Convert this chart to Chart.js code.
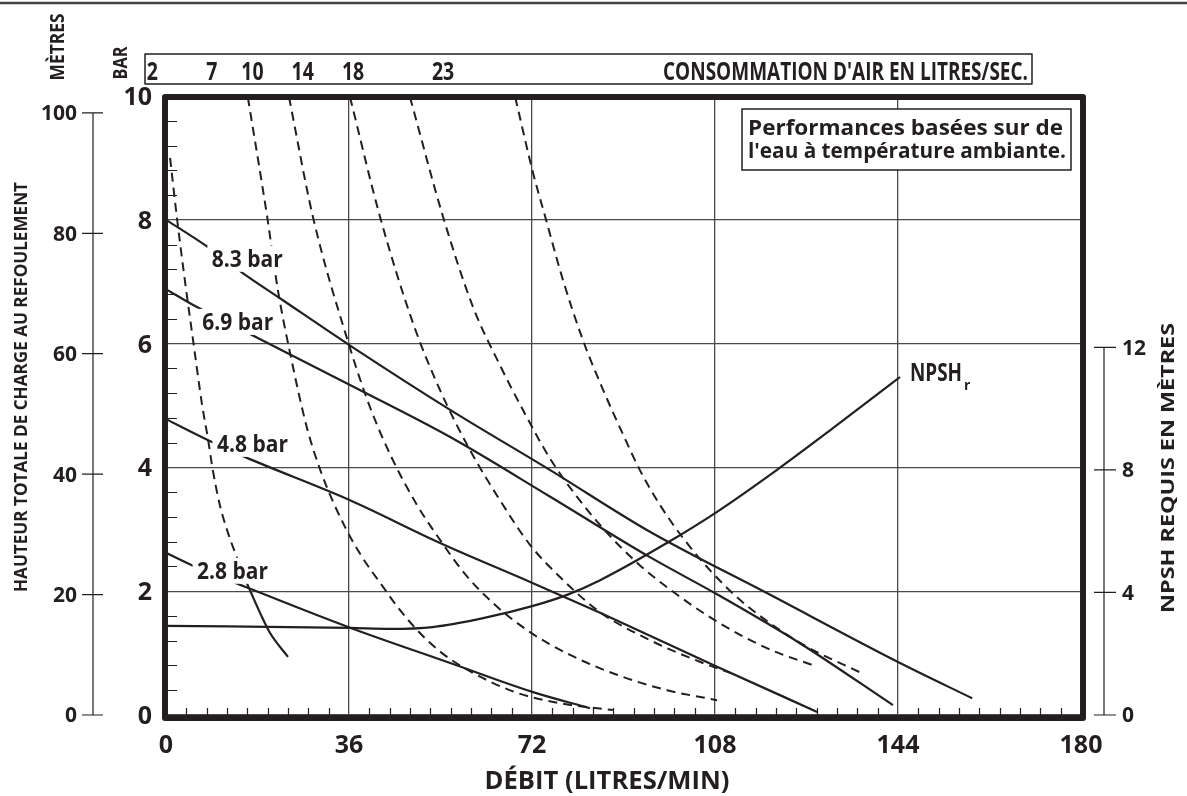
<!DOCTYPE html>
<html>
<head>
<meta charset="utf-8">
<script src="https://cdn.jsdelivr.net/npm/chart.js@4.4.1/dist/chart.umd.min.js"></script>
<style>
  body { margin: 0; background: #fff; }
  #wrap { width: 1187px; height: 796px; position: relative; }
</style>
</head>
<body>
<div id="wrap"><canvas id="grafico"></canvas></div>
<script>
// Débit en L/min (x) et hauteur en bar (y)
const bar83X = [0, 7.7, 15.1, 23.0, 36.0, 55.9, 75.5, 95.2, 118.2, 144.4, 158.6];
const bar83Y = [8.0, 7.59, 7.14, 6.70, 5.98, 4.93, 3.96, 2.96, 1.97, 0.84, 0.27];
const bar69X = [0, 6.1, 16.9, 36.2, 55.9, 75.5, 95.2, 108.4, 124.7, 143.0];
const bar69Y = [6.88, 6.59, 6.14, 5.33, 4.49, 3.53, 2.55, 1.95, 1.16, 0.16];
const bar48X = [0, 8.3, 15.5, 36.2, 53.9, 72.2, 85.4, 108.4, 128.1];
const bar48Y = [4.78, 4.44, 4.17, 3.47, 2.78, 2.13, 1.65, 0.78, 0.05];
const bar28X = [0, 5.1, 13.2, 36.2, 55.9, 72.2, 83.4];
const bar28Y = [2.62, 2.42, 2.15, 1.41, 0.84, 0.37, 0.11];

// NPSH requis (mètres, axe de droite)
const npshX = [0, 36.2, 44.1, 52.5, 62.4, 72.2, 78.9, 85.4, 98.6, 108.4, 120.2, 131.2, 138.5, 144.4];
const npshY = [2.91, 2.84, 2.81, 2.87, 3.16, 3.56, 3.92, 4.40, 5.62, 6.63, 8.0, 9.36, 10.28, 11.03];

// Courbes de consommation d'air (L/s)
const air2X = [0.8, 2.2, 3.7, 5.5, 7.1, 8.3, 9.2, 10.6, 12.0, 13.6, 15.9];
const air2Y = [9.0, 8.0, 7.03, 5.95, 5.01, 4.44, 3.96, 3.39, 2.99, 2.62, 2.13];
const air2FinX = [15.9, 18.5, 20.5, 24.0];
const air2FinY = [2.13, 1.65, 1.32, 0.94];
const air7X = [16.1, 19.9, 22.0, 24.4, 27.7, 30.7, 35.2, 38.6, 42.7, 45.6, 50.0, 54.3, 60.4, 69.0, 77.5, 87.9];
const air7Y = [9.98, 8.05, 6.87, 5.85, 4.65, 3.88, 3.04, 2.55, 2.07, 1.74, 1.32, 1.00, 0.68, 0.36, 0.19, 0.08];
const air10X = [24.2, 28.9, 36.0, 40.1, 44.5, 49.4, 53.9, 58.8, 64.7, 71.6, 79.5, 88.7, 98.6, 108.4];
const air10Y = [9.98, 8.05, 5.98, 4.98, 4.14, 3.39, 2.83, 2.28, 1.78, 1.34, 0.97, 0.65, 0.40, 0.24];
const air14X = [36.2, 42.1, 48.6, 53.9, 59.8, 65.7, 71.6, 77.5, 85.4, 95.2, 105.0, 111.0];
const air14Y = [9.98, 8.05, 6.33, 5.25, 4.28, 3.47, 2.75, 2.23, 1.66, 1.21, 0.86, 0.68];
const air18X = [48.0, 54.5, 60.4, 65.7, 70.2, 75.5, 80.9, 86.8, 93.2, 100.1, 108.0, 118.2, 128.1];
const air18Y = [9.98, 8.05, 6.59, 5.65, 4.93, 4.15, 3.52, 2.94, 2.42, 1.97, 1.53, 1.08, 0.78];
const air23X = [68.7, 72.2, 74.6, 77.9, 82.0, 86.0, 89.7, 93.2, 97.2, 101.7, 107.0, 112.9, 119.4, 126.1, 136.5];
const air23Y = [9.98, 8.76, 8.05, 7.08, 6.06, 5.25, 4.57, 3.96, 3.39, 2.86, 2.34, 1.86, 1.45, 1.10, 0.69];

// Graduations
const debitTicks = [0, 36, 72, 108, 144, 180];
const barTicks = [0, 2, 4, 6, 8, 10];
const metreTicks = [0, 20, 40, 60, 80, 100];
const npshTicks = [0, 4, 8, 12];
const airLabels = ["2", "7", "10", "14", "18", "23"];
const airLabelAt = [-2.7, 9.0, 17.0, 26.9, 36.8, 54.5];

// Étiquettes des courbes (position en L/min, bar)
const courbeLabels = [
    { t: "8.3 bar", x: 16.0, y: 7.37 },
    { t: "6.9 bar", x: 14.1, y: 6.35 },
    { t: "4.8 bar", x: 17.0, y: 4.38 },
    { t: "2.8 bar", x: 13.1, y: 2.33 }
];

const COR = "#231f20";

function pontos(xs, ys) {
    return xs.map((v, i) => ({ x: v, y: ys[i] }));
}

function linha(xs, ys, tracejado, eixo) {
    return {
        data: pontos(xs, ys),
        borderColor: COR,
        borderWidth: tracejado ? 2 : 2.2,
        borderDash: tracejado ? [9, 6] : [],
        pointRadius: 0,
        fill: false,
        cubicInterpolationMode: "monotone",
        yAxisID: eixo || "y"
    };
}

// Texte en gras, centré verticalement sur les majuscules
function texto(ctx, s, x, y, size, opt) {
    opt = opt || {};
    ctx.save();
    ctx.translate(x, y);
    if (opt.rot) ctx.rotate(opt.rot);
    ctx.font = "bold " + size + "px 'Open Sans', sans-serif";
    let k = opt.sx || 1;
    if (opt.w) k = opt.w / ctx.measureText(s).width;
    ctx.scale(k, 1);
    ctx.textAlign = opt.align || "center";
    ctx.textBaseline = "alphabetic";
    ctx.fillStyle = COR;
    ctx.fillText(s, 0, size * 0.357);
    ctx.restore();
}

const decor = {
    id: "decor",
    afterDatasetsDraw(chart) {
        const ctx = chart.ctx;
        const { x, y, yM, yN } = chart.scales;

        // Étiquettes des courbes sur fond blanc
        courbeLabels.forEach((l) => {
            const px = x.getPixelForValue(l.x);
            const py = y.getPixelForValue(l.y);
            ctx.fillStyle = "#fff";
            ctx.fillRect(px - 40, py - 13, 80, 26);
            texto(ctx, l.t, px, py, 23, { w: 71 });
        });

        // NPSHr
        texto(ctx, "NPSH", 910, 372, 25, { align: "left", w: 52 });
        texto(ctx, "r", 964, 385, 14, { align: "left" });

        // Encadré
        ctx.fillStyle = "#fff";
        ctx.fillRect(742, 109, 329, 61);
        ctx.strokeStyle = COR;
        ctx.lineWidth = 1.5;
        ctx.strokeRect(742, 109, 329, 61);
        texto(ctx, "Performances basées sur de", 748, 127, 22, { align: "left", w: 315 });
        texto(ctx, "l'eau à température ambiante.", 748, 150, 22, { align: "left", w: 318 });

        // Petites graduations
        ctx.strokeStyle = COR;
        ctx.lineWidth = 1.2;
        ctx.beginPath();
        for (let v = 0.4; v < 10; v += 0.4) {
            if (Math.abs(v / 2 - Math.round(v / 2)) < 0.01) continue;
            const py = Math.round(y.getPixelForValue(v)) + 0.5;
            ctx.moveTo(168, py);
            ctx.lineTo(177, py);
        }
        for (let v = 4; v < 180; v += 4) {
            if (v % 36 === 0) continue;
            const px = Math.round(x.getPixelForValue(v)) + 0.5;
            ctx.moveTo(px, 715);
            ctx.lineTo(px, 708);
        }
        ctx.stroke();

        // Cadre épais
        ctx.lineWidth = 6;
        ctx.lineJoin = "round";
        ctx.strokeRect(165, 97, 918, 621);

        // Axe x
        debitTicks.forEach((v) => {
            texto(ctx, String(v), x.getPixelForValue(v), 744, 25);
        });
        texto(ctx, "DÉBIT (LITRES/MIN)", 607, 780, 25, { w: 245 });

        // Axe bar
        barTicks.forEach((v) => {
            texto(ctx, String(v), 152, y.getPixelForValue(v), 25, { align: "right" });
        });
        texto(ctx, "BAR", 120, 63, 19, { rot: -Math.PI / 2, w: 33 });

        // Axe mètres (gauche, extérieur)
        ctx.lineWidth = 1.2;
        ctx.beginPath();
        ctx.moveTo(93, yM.getPixelForValue(0));
        ctx.lineTo(93, yM.getPixelForValue(100));
        metreTicks.forEach((v) => {
            const py = yM.getPixelForValue(v);
            ctx.moveTo(82, py);
            ctx.lineTo(103, py);
        });
        ctx.stroke();
        metreTicks.forEach((v) => {
            texto(ctx, String(v), 77, yM.getPixelForValue(v), 21, { align: "right" });
        });
        texto(ctx, "MÈTRES", 57, 47, 19, { rot: -Math.PI / 2, w: 67 });
        texto(ctx, "HAUTEUR TOTALE DE CHARGE AU REFOULEMENT", 21, 387, 17, { rot: -Math.PI / 2, w: 410 });

        // Axe NPSH (droite)
        ctx.beginPath();
        ctx.moveTo(1104, yN.getPixelForValue(0));
        ctx.lineTo(1104, yN.getPixelForValue(12));
        npshTicks.forEach((v) => {
            const py = yN.getPixelForValue(v);
            ctx.moveTo(1094, py);
            ctx.lineTo(1116, py);
        });
        ctx.stroke();
        npshTicks.forEach((v) => {
            texto(ctx, String(v), 1122, yN.getPixelForValue(v), 21, { align: "left" });
        });
        texto(ctx, "NPSH REQUIS EN MÈTRES", 1168, 468, 18, { rot: -Math.PI / 2, w: 290 });

        // Bandeau consommation d'air
        ctx.lineWidth = 1.5;
        ctx.strokeRect(145, 54, 887, 30);
        airLabels.forEach((s, i) => {
            texto(ctx, s, x.getPixelForValue(airLabelAt[i]), 71, 25, { sx: 0.78 });
        });
        texto(ctx, "CONSOMMATION D'AIR EN LITRES/SEC.", 1028, 71, 25, { align: "right", w: 365 });

        // Filet du haut
        ctx.strokeStyle = "#444";
        ctx.lineWidth = 2.5;
        ctx.beginPath();
        ctx.moveTo(0, 3);
        ctx.lineTo(1187, 3);
        ctx.stroke();
    }
};

const ctx = document.getElementById("grafico").getContext("2d");

new Chart(ctx, {
    type: "line",
    data: {
        datasets: [
            linha(bar83X, bar83Y, false),
            linha(bar69X, bar69Y, false),
            linha(bar48X, bar48Y, false),
            linha(bar28X, bar28Y, false),
            linha(npshX, npshY, false, "yN"),
            linha(air2X, air2Y, true),
            linha(air2FinX, air2FinY, false),
            linha(air7X, air7Y, true),
            linha(air10X, air10Y, true),
            linha(air14X, air14Y, true),
            linha(air18X, air18Y, true),
            linha(air23X, air23Y, true)
        ]
    },
    options: {
        responsive: true,
        maintainAspectRatio: false,
        animation: false,
        layout: { padding: { left: 166, right: 106, top: 96, bottom: 81 } },
        plugins: { legend: { display: false }, tooltip: { enabled: false } },
        scales: {
            x: {
                type: "linear",
                min: 0,
                max: 180,
                ticks: { display: false, stepSize: 36 },
                grid: { drawTicks: false, color: "#4a4a4a", lineWidth: 1.3 },
                border: { display: false }
            },
            y: {
                min: 0,
                max: 10,
                ticks: { display: false, stepSize: 2 },
                grid: { drawTicks: false, color: "#4a4a4a", lineWidth: 1.3 },
                border: { display: false }
            },
            yN: { display: false, position: "right", min: 0, max: 20.2 },
            yM: { display: false, position: "left", min: 0, max: 102.8 }
        }
    },
    plugins: [decor]
});
</script>
</body>
</html>
